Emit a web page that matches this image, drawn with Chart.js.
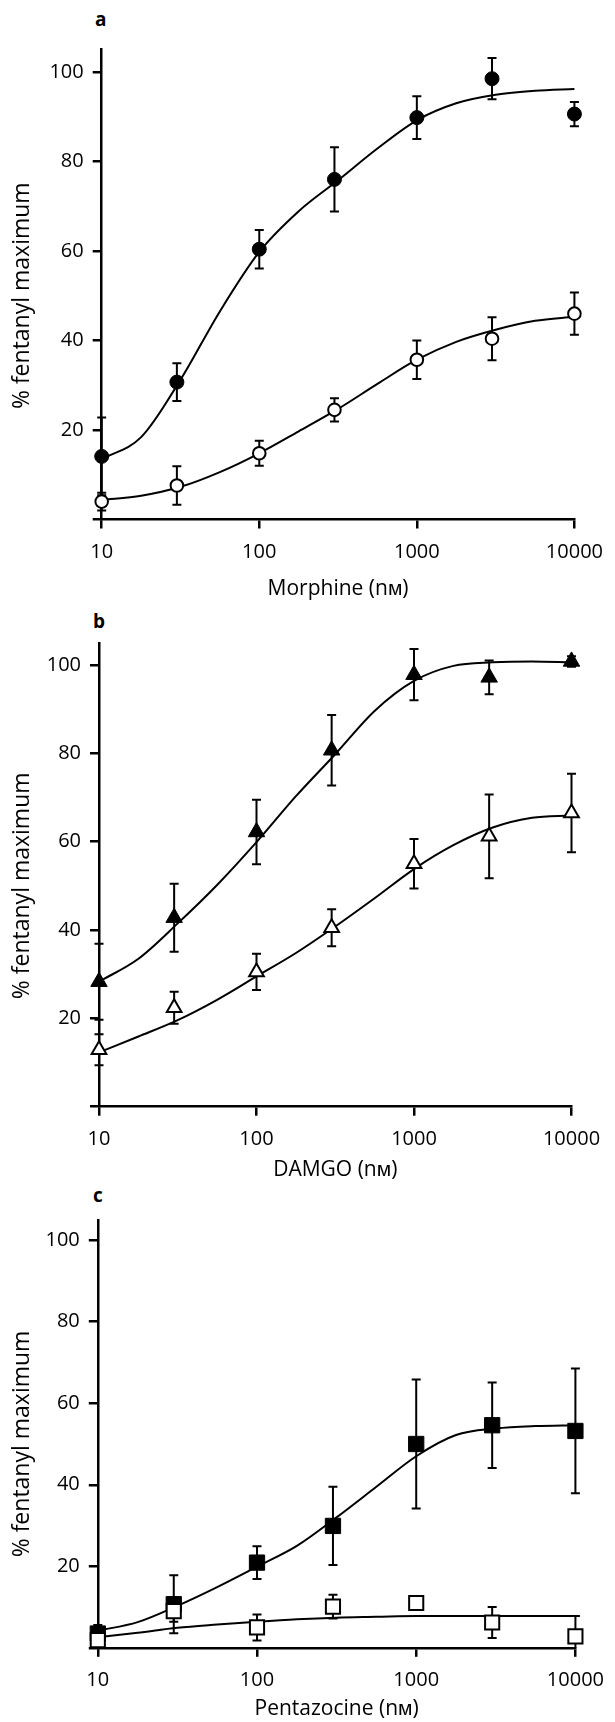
<!DOCTYPE html>
<html><head><meta charset="utf-8">
<script src="https://cdn.jsdelivr.net/npm/chart.js@4.4.1/dist/chart.umd.min.js"></script>
<style>
html,body{margin:0;padding:0;background:#fff;}
body{width:615px;height:1722px;position:relative;overflow:hidden;font-family:'Open Sans',sans-serif;}
canvas{position:absolute;left:0;}
.lbl{position:absolute;font-weight:700;font-size:19px;font-family:'Open Sans',sans-serif;color:#000;line-height:20px;height:20px;}
</style></head><body>
<div class="lbl" style="left:95px;top:8.5px;">a</div>
<div class="lbl" style="left:93px;top:611px;">b</div>
<div class="lbl" style="left:93px;top:1184.5px;">c</div>
<canvas id="ca"></canvas>
<canvas id="cb"></canvas>
<canvas id="cc"></canvas>
<script>
// ---------- data ----------
const doses = [10, 30, 100, 300, 1000, 3000, 10000];
const fitDoses = [10, 17.8, 31.6, 56.2, 100, 178, 316, 562, 1000, 1778, 3162, 5623, 10000];
const xTicks = [10, 100, 1000, 10000];
const yTicks = [0, 20, 40, 60, 80, 100];

// panel a: morphine
const morphineFilled    = [14.1, 30.7, 60.4, 76.0, 89.8, 98.5, 90.6];
const morphineFilledErr = [8.7, 4.2, 4.3, 7.2, 4.8, 4.6, 2.7];
const morphineOpen      = [4.0, 7.6, 14.8, 24.5, 35.7, 40.4, 46.0];
const morphineOpenErr   = [2.0, 4.3, 2.8, 2.6, 4.3, 4.8, 4.7];
const morphineFilledFit = [13.5, 18.4, 31.2, 46.5, 59.8, 68.9, 75.8, 82.9, 89.2, 93.0, 94.9, 95.8, 96.2];
const morphineOpenFit   = [4.4, 5.3, 7.3, 10.6, 14.8, 19.7, 24.7, 30.3, 35.7, 39.7, 42.4, 44.4, 45.3];

// panel b: DAMGO
const damgoFilled    = [28.3, 42.8, 62.2, 80.7, 97.8, 97.2, 100.8];
const damgoFilledErr = [8.6, 7.7, 7.3, 8.0, 5.8, 3.8, 1.2];
const damgoOpen      = [12.9, 22.4, 30.5, 40.5, 55.0, 61.2, 66.5];
const damgoOpenErr   = [3.5, 3.6, 4.1, 4.2, 5.6, 9.5, 8.9];
const damgoFilledFit = [28.3, 33.5, 41.5, 50.2, 59.9, 70.3, 79.8, 89.6, 96.4, 99.8, 100.6, 100.8, 100.6];
const damgoOpenFit   = [12.3, 15.9, 19.6, 24.2, 29.5, 34.8, 40.8, 47.2, 53.8, 59.2, 63.2, 65.4, 65.9];

// panel c: pentazocine
const pentaFilled    = [3.5, 10.7, 20.9, 29.9, 50.0, 54.6, 53.2];
const pentaFilledErr = [2.1, 7.1, 4.0, 9.6, 15.8, 10.5, 15.3];
const pentaOpen      = [1.9, 9.0, 5.0, 10.1, 11.0, 6.2, 2.8];
const pentaOpenErr   = [0, 2.6, 3.2, 2.9, 0, 3.8, 5.0];
const pentaFilledFit = [4.2, 6.3, 10.3, 14.9, 19.9, 25.0, 32.0, 39.5, 47.0, 52.2, 53.8, 54.4, 54.6];
const pentaOpenFit   = [2.6, 3.7, 4.9, 5.7, 6.4, 7.0, 7.4, 7.6, 7.8, 7.8, 7.8, 7.8, 7.8];

const yTitleText = '% fentanyl maximum';
const FONT = "'Open Sans', sans-serif";

// ---------- plugins ----------
const errorBars = {
  id: 'errorBars',
  beforeDatasetsDraw(chart) {
    const ctx = chart.ctx, xs = chart.scales.x, ys = chart.scales.y;
    const cap = 4.5;
    ctx.save();
    ctx.strokeStyle = '#000';
    ctx.lineWidth = 2;
    chart.data.datasets.forEach(ds => {
      if (!ds.errors) return;
      ds.data.forEach((p, i) => {
        const e = ds.errors[i];
        if (!e) return;
        const px = xs.getPixelForValue(p.x);
        const top = ys.getPixelForValue(p.y + e);
        const lowV = p.y - e;
        const bot = ys.getPixelForValue(Math.max(lowV, 0));
        ctx.beginPath();
        ctx.moveTo(px, top); ctx.lineTo(px, bot);
        ctx.moveTo(px - cap, top); ctx.lineTo(px + cap, top);
        if (lowV > 0) { ctx.moveTo(px - cap, bot); ctx.lineTo(px + cap, bot); }
        ctx.stroke();
      });
    });
    ctx.restore();
  }
};
const yTitle = {
  id: 'yTitle',
  afterDraw(chart, args, opts) {
    const ctx = chart.ctx, ys = chart.scales.y;
    ctx.save();
    ctx.translate(opts.x, ys.getPixelForValue(50));
    ctx.rotate(-Math.PI / 2);
    ctx.font = opts.size + 'px ' + FONT;
    ctx.fillStyle = '#000';
    ctx.textAlign = 'center';
    ctx.textBaseline = 'middle';
    ctx.fillText(opts.text, 0, 0);
    ctx.restore();
  }
};

function pts(xs, ys) { return xs.map((x, i) => ({ x: x, y: ys[i] })); }

function makePanel(p) {
  const cv = document.getElementById(p.id);
  cv.width = 615; cv.height = p.h;
  cv.style.width = '615px'; cv.style.height = p.h + 'px';
  cv.style.top = p.top + 'px';
  const curve = (vals) => ({
    data: pts(fitDoses, vals), showLine: true, borderColor: '#000', borderWidth: 2,
    pointRadius: 0, cubicInterpolationMode: 'monotone', fill: false, order: 2, clip: false
  });
  const marker = (vals, errs, style, filled, r, order) => ({
    data: pts(doses, vals), errors: errs, showLine: false, pointStyle: style,
    pointRadius: r, pointBorderWidth: filled ? 1 : 2,
    pointBackgroundColor: filled ? '#000' : '#fff', pointBorderColor: '#000',
    order: order, clip: false
  });
  new Chart(cv, {
    type: 'scatter',
    data: { datasets: [
      curve(p.filledFit), curve(p.openFit),
      marker(p.filled, p.filledErr, p.style, true, p.rF, 1),
      marker(p.open, p.openErr, p.style, false, p.rO, 0)
    ]},
    options: {
      responsive: false, animation: false, devicePixelRatio: 1, events: [],
      layout: { padding: { top: p.padTop, right: 615 - p.right, left: 0, bottom: 0 } },
      plugins: { legend: { display: false }, tooltip: { enabled: false },
        yTitle: { text: yTitleText, x: 22, size: 23 } },
      scales: {
        x: {
          type: 'logarithmic', min: 10, max: 10000,
          afterBuildTicks: s => { s.ticks = xTicks.map(v => ({ value: v })); },
          afterFit: s => { s.height = p.xAxisH; },
          ticks: { callback: v => String(v), font: { family: FONT, size: 20 }, color: '#000',
                   padding: p.tickPad, maxRotation: 0, autoSkip: false },
          grid: { display: true, drawOnChartArea: false, drawTicks: true, tickLength: 9,
                  color: '#000', lineWidth: 2.5 },
          border: { display: true, color: '#000', width: 2.5 },
          title: { display: true, text: p.xTitle, font: { family: FONT, size: 21 }, color: '#000',
                   padding: 0 }
        },
        y: {
          type: 'linear', min: 0, max: 105,
          afterBuildTicks: s => { s.ticks = yTicks.map(v => ({ value: v })); },
          afterFit: s => { s.width = p.left; },
          ticks: { callback: v => (v === 0 ? '' : String(v)), font: { family: FONT, size: 20 },
                   color: '#000', padding: 9, autoSkip: false },
          grid: { display: true, drawOnChartArea: false, drawTicks: true, tickLength: 9,
                  color: '#000', lineWidth: 2.5 },
          border: { display: true, color: '#000', width: 2.5 }
        }
      }
    },
    plugins: [errorBars, yTitle]
  });
}

function build() {
  makePanel({ id: 'ca', top: 0, h: 602, padTop: 49.6, left: 101.7, right: 583.4, xAxisH: 602 - 519.5, tickPad: 12,
    xTitle: 'Morphine (nᴍ)', style: 'circle', rF: 7, rO: 6.3,
    filled: morphineFilled, filledErr: morphineFilledErr, open: morphineOpen, openErr: morphineOpenErr,
    filledFit: morphineFilledFit, openFit: morphineOpenFit });
  makePanel({ id: 'cb', top: 605, h: 578, padTop: 642.9 - 605, left: 99, right: 571.5, xAxisH: 1183 - 1106.7, tickPad: 12,
    xTitle: 'DAMGO (nᴍ)', style: 'triangle', rF: 9.5, rO: 8.5,
    filled: damgoFilled, filledErr: damgoFilledErr, open: damgoOpen, openErr: damgoOpenErr,
    filledFit: damgoFilledFit, openFit: damgoOpenFit });
  makePanel({ id: 'cc', top: 1186, h: 536, padTop: 1219.8 - 1186, left: 97.8, right: 584.2, xAxisH: 1722 - 1647.8, tickPad: 11,
    xTitle: 'Pentazocine (nᴍ)', style: 'rect', rF: 10.8, rO: 10,
    filled: pentaFilled, filledErr: pentaFilledErr, open: pentaOpen, openErr: pentaOpenErr,
    filledFit: pentaFilledFit, openFit: pentaOpenFit });
}
if (document.fonts && document.fonts.load) {
  Promise.all([document.fonts.load("20px 'Open Sans'"), document.fonts.load("bold 19px 'Open Sans'")])
    .then(build, build);
} else { build(); }
</script>
</body></html>
